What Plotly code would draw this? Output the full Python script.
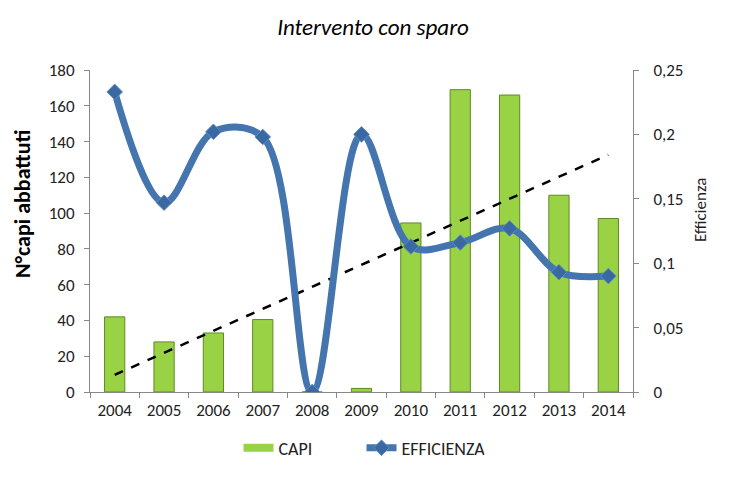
import numpy as np
import plotly.graph_objects as go

years = ["2004", "2005", "2006", "2007", "2008", "2009", "2010", "2011", "2012", "2013", "2014"]
capi = [42, 28, 33, 40.5, 0, 2, 94.5, 169, 166, 110, 97]
efficienza = [0.233, 0.147, 0.202, 0.198, 0.0, 0.2, 0.113, 0.116, 0.127, 0.093, 0.09]

# linear trend of CAPI (Excel-style trendline)
idx = np.arange(len(years))
slope, intercept = np.polyfit(idx, capi, 1)
trend = (slope * idx + intercept).tolist()

FONT = "Carlito, Calibri, Lato, sans-serif"
GREEN = "#9AD246"

fig = go.Figure()
fig.add_trace(go.Bar(
    x=years, y=capi, name="CAPI", width=0.41, showlegend=False,
    marker=dict(color=GREEN, line=dict(color="#5E8A24", width=1)),
))
# legend entry for the bars (wide band like the original)
fig.add_trace(go.Scatter(
    x=[None], y=[None], mode="lines", name="CAPI",
    line=dict(color=GREEN, width=8),
))
fig.add_trace(go.Scatter(
    x=years, y=trend, mode="lines", showlegend=False,
    line=dict(color="black", width=2.5, dash="dash"),
))
fig.add_trace(go.Scatter(
    x=years, y=efficienza, name="EFFICIENZA", yaxis="y2",
    mode="lines+markers", line=dict(color="#4575AE", width=7, shape="spline", smoothing=1.0),
    marker=dict(symbol="diamond", size=12, color="#3A68A0", line=dict(color="#5E8CC4", width=1)),
))

fig.update_layout(
    width=730, height=487,
    paper_bgcolor="white", plot_bgcolor="white",
    separators=",.",
    margin=dict(l=82, r=105, t=62, b=103, autoexpand=False),
    font=dict(family=FONT, size=17, color="#222"),
    title=dict(text="<i>Intervento con sparo</i>", x=0.5, xanchor="center", y=0.962, yanchor="middle",
               font=dict(family=FONT, size=23, color="black")),
    xaxis=dict(type="category", range=[-0.5, 10.5], showline=True, linecolor="#888", linewidth=1,
               ticks="outside", tickson="boundaries", ticklen=5, tickcolor="#888",
               showgrid=False, tickfont=dict(size=17), ticklabelstandoff=3),
    yaxis=dict(range=[0, 180], dtick=20, showline=True, linecolor="#888", linewidth=1,
               ticks="outside", ticklen=5, tickcolor="#888", showgrid=False, zeroline=False,
               tickfont=dict(size=17), ticklabelstandoff=6),
    yaxis2=dict(range=[0, 0.25], dtick=0.05, overlaying="y", side="right", showline=True,
                linecolor="#888", linewidth=1, ticks="outside", ticklen=5, tickcolor="#888",
                showgrid=False, zeroline=False, tickformat="~g",
                tickfont=dict(size=17), ticklabelstandoff=11),
    legend=dict(orientation="h", x=0.5, xanchor="center", y=-0.174, yanchor="middle",
                font=dict(size=18), traceorder="normal", entrywidth=78),
    annotations=[
        dict(text="<b>N°capi abbattuti</b>", xref="paper", yref="paper", x=-0.1234, y=0.587,
             textangle=-90, showarrow=False, font=dict(size=22, color="black"),
             xanchor="center", yanchor="middle"),
        dict(text="Efficienza", xref="paper", yref="paper", x=1.1234, y=0.565,
             textangle=-90, showarrow=False, font=dict(size=17, color="#222"),
             xanchor="center", yanchor="middle"),
    ],
)

fig.write_html("out.html")
